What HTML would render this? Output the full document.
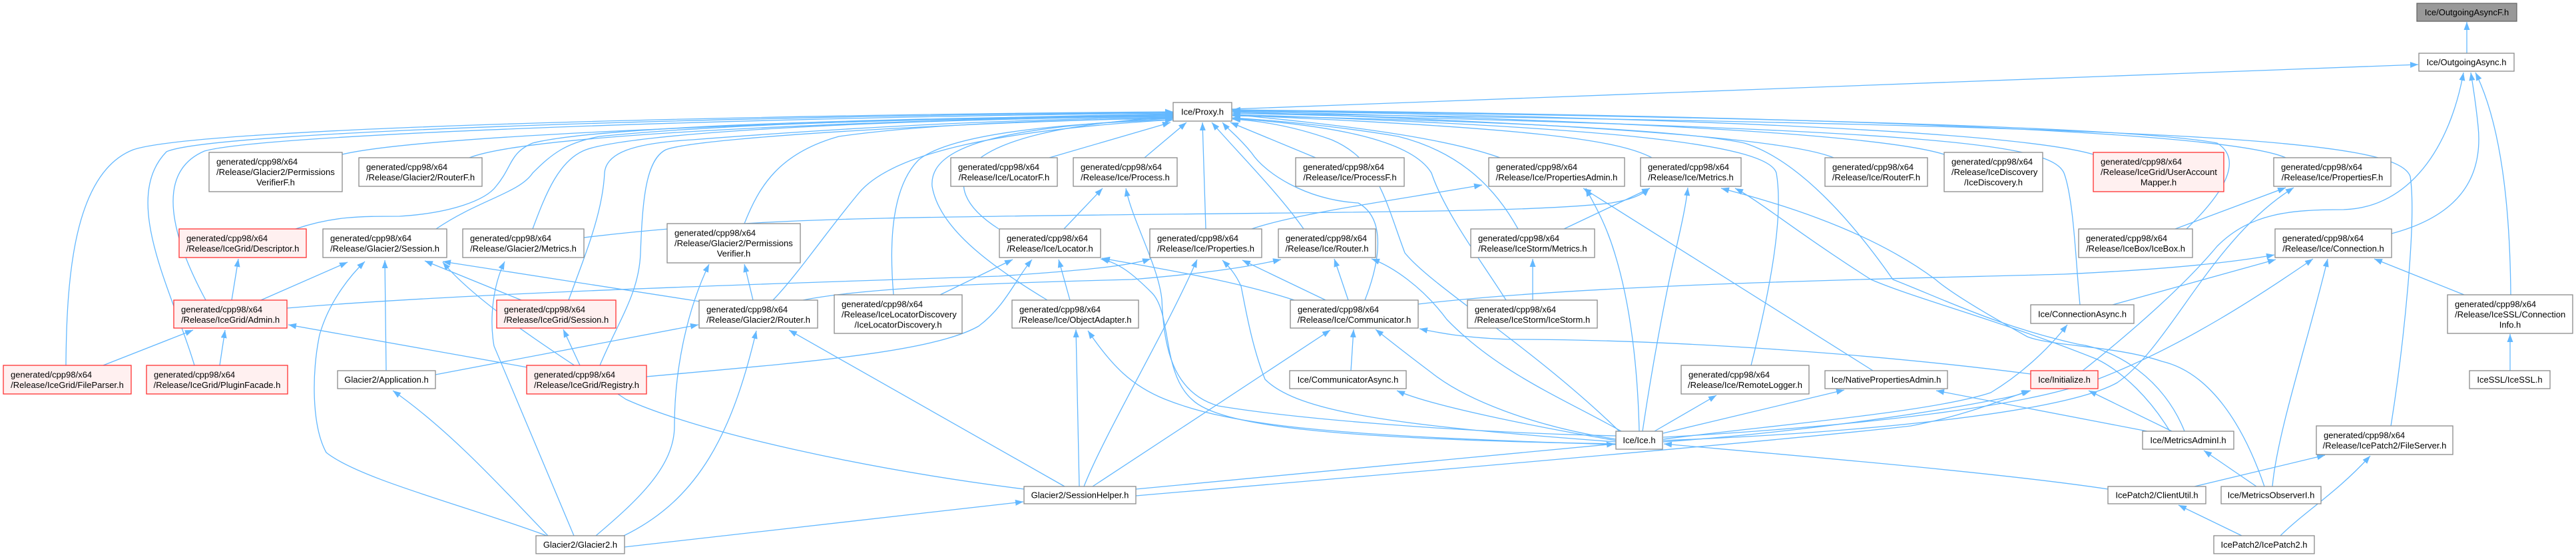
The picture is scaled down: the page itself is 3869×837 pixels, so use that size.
<!DOCTYPE html>
<html><head><meta charset="utf-8"><title>Ice/OutgoingAsyncF.h include graph</title>
<style>
html,body{margin:0;padding:0;background:#fff;}
svg{display:block;}
text{font-family:"Liberation Sans",Arial,Helvetica,sans-serif;font-size:13px;fill:#000;}
.e{fill:none;stroke:#63b8ff;stroke-width:1.3;marker-end:url(#a);}
.n rect{fill:#fff;stroke:#8a8a8a;stroke-width:1.3;}
.r rect{fill:#fff0f0;stroke:#ff3030;stroke-width:1.3;}
.g rect{fill:#999999;stroke:#666666;stroke-width:1.3;}
.c{text-anchor:middle;}
</style></head>
<body>
<svg width="3869" height="837" viewBox="0 0 3869 837" xmlns="http://www.w3.org/2000/svg">
<defs>
<marker id="a" viewBox="0 0 12 10" markerWidth="12" markerHeight="10" refX="12" refY="5" orient="auto" markerUnits="userSpaceOnUse"><path d="M0,0.5 L12,5 L0,9.5z" fill="#63b8ff"/></marker>
</defs>

<g>
<path class="e" d="M3705,80 L3705,33"/>
<path class="e" d="M1850,164 L3632,97"/>
<path class="e" d="M3592,351 C3690,325 3730,270 3722,190 C3718,150 3714,128 3711,109"/>
<path class="e" d="M3771,443 C3770,320 3758,190 3718,109"/>
<path class="e" d="M3128,557 C3200,500 3280,430 3330,370 C3380,320 3440,315 3520,315 C3620,312 3680,220 3700,109"/>
<path class="e" d="M3770,557 L3770,502"/>
<path class="e" d="M3701,443 L3566,389"/>
<path class="e" d="M3413,731 C3420,650 3470,500 3496,389"/>
<path class="e" d="M2498,657 C2800,640 3050,610 3150,570 C3280,520 3400,440 3474,389"/>
<path class="e" d="M2130,457 C2400,425 2900,418 3100,412 C3250,405 3350,395 3416,383"/>
<path class="e" d="M3173,458 L3418,390"/>
<path class="e" d="M2498,660 C2650,640 2900,620 2990,590 C3040,560 3080,520 3105,488"/>
<path class="e" d="M3267,344 L3433,282"/>
<path class="e" d="M2498,662 C2800,650 3100,620 3180,575 C3260,520 3320,360 3445,282"/>
<path class="e" d="M3591,640 C3610,520 3630,330 3620,265 C3600,210 3300,190 1851,170"/>
<path class="e" d="M3296,731 L3492,684"/>
<path class="e" d="M3367,805 L3272,759"/>
<path class="e" d="M3425,805 C3460,770 3510,740 3560,685"/>
<path class="e" d="M3166,735 C3000,710 2700,685 2499,667"/>
<path class="e" d="M3389,731 L3310,677"/>
<path class="e" d="M3401,731 C3370,640 3320,560 3247,543 C3180,520 3080,520 3045,506 C2980,470 2930,440 2907,420 C2800,340 2650,300 2585,283"/>
<path class="e" d="M3259,648 C3230,600 3190,560 3150,540 C3000,480 2880,450 2810,420 C2700,350 2640,300 2606,283"/>
<path class="e" d="M3225,648 L2908,587"/>
<path class="e" d="M3262,648 L3137,587"/>
<path class="e" d="M3281,648 C3250,570 3180,525 3120,517 C3000,490 2920,450 2843,420 C2780,330 2700,240 2620,215 C2500,190 2100,178 1851,174"/>
<path class="e" d="M2813,557 L2378,283"/>
<path class="e" d="M2498,651 L2770,586"/>
<path class="e" d="M2485,648 L2578,594"/>
<path class="e" d="M2630,549 C2655,450 2680,330 2668,260 C2655,215 2400,190 1851,172"/>
<path class="e" d="M2467,648 C2480,560 2500,450 2516,380 C2525,340 2532,310 2535,282"/>
<path class="e" d="M2462,648 C2460,560 2450,460 2425,380 C2410,330 2390,300 2382,283"/>
<path class="e" d="M2435,648 C2350,600 2250,560 2173,480 C2136,430 2090,400 2060,389"/>
<path class="e" d="M2302,451 L2302,389"/>
<path class="e" d="M2262,451 C2230,400 2170,320 2150,260 C2120,210 2000,188 1851,178"/>
<path class="e" d="M2349,344 L2478,283"/>
<path class="e" d="M2280,344 C2250,290 2200,230 2100,205 C2000,188 1900,180 1851,177"/>
<path class="e" d="M877,357 C1100,330 1300,328 1500,325 C2000,318 2300,320 2420,305 C2450,300 2468,292 2477,283"/>
<path class="e" d="M2481,237 C2430,210 2300,192 1851,173"/>
<path class="e" d="M2253,237 C2150,200 1950,182 1851,172"/>
<path class="e" d="M1880,344 C1950,320 2100,300 2226,278"/>
<path class="e" d="M1976,237 L1848,184"/>
<path class="e" d="M1958,344 C1920,290 1860,230 1820,184"/>
<path class="e" d="M1811,344 L1806,184"/>
<path class="e" d="M1719,237 L1782,184"/>
<path class="e" d="M1576,237 L1758,184"/>
<path class="e" d="M1500,344 C1400,280 1420,195 1762,176"/>
<path class="e" d="M1598,344 L1656,283"/>
<path class="e" d="M2427,655 C2200,650 1950,630 1830,610 C1760,590 1748,520 1745,450 C1740,400 1700,330 1691,283"/>
<path class="e" d="M2050,451 C2070,400 2085,330 2040,305 C1960,300 1900,260 1880,230 C1860,205 1845,195 1836,184"/>
<path class="e" d="M1944,451 C1850,420 1720,400 1655,388"/>
<path class="e" d="M1991,451 L1866,391"/>
<path class="e" d="M2025,451 L2004,389"/>
<path class="e" d="M2427,660 C2300,640 2200,600 2150,560 C2110,530 2085,510 2066,495"/>
<path class="e" d="M2427,662 C2300,640 2150,610 2098,587"/>
<path class="e" d="M2029,557 L2033,495"/>
<path class="e" d="M3050,562 C2800,530 2500,510 2270,510 C2200,508 2160,500 2132,494"/>
<path class="e" d="M2427,664 C2100,640 1950,620 1900,570 C1880,520 1870,460 1864,430 C1855,410 1845,400 1836,391"/>
<path class="e" d="M2427,667 C2000,660 1830,640 1790,600 C1745,560 1760,470 1730,440 C1700,410 1680,395 1653,389"/>
<path class="e" d="M2427,668 C2000,655 1850,640 1750,600 C1700,580 1670,550 1634,497"/>
<path class="e" d="M1621,731 L1616,495"/>
<path class="e" d="M1599,731 L1185,496"/>
<path class="e" d="M1628,731 C1660,650 1750,500 1798,390"/>
<path class="e" d="M1641,731 C1750,660 1900,560 1998,496"/>
<path class="e" d="M1706,735 L2425,667"/>
<path class="e" d="M1706,745 C2000,720 2700,660 2870,640 C2950,625 3010,600 3048,587"/>
<path class="e" d="M938,822 L1537,754"/>
<path class="e" d="M1538,735 C1300,705 1050,650 940,600 C850,540 720,460 665,394"/>
<path class="e" d="M1607,451 L1590,390"/>
<path class="e" d="M1573,451 C1480,395 1410,340 1400,280 C1395,220 1500,190 1762,178"/>
<path class="e" d="M1412,443 L1521,390"/>
<path class="e" d="M1342,443 C1335,360 1340,280 1380,240 C1430,200 1600,185 1762,180"/>
<path class="e" d="M971,566 C1200,545 1400,530 1470,490 C1510,460 1525,420 1550,390"/>
<path class="e" d="M792,552 L433,488"/>
<path class="e" d="M871,549 L846,495"/>
<path class="e" d="M901,549 C930,480 960,440 962,380 C965,300 970,240 1000,225 C1050,205 1500,182 1762,177"/>
<path class="e" d="M1051,453 L665,393"/>
<path class="e" d="M1131,451 L1118,397"/>
<path class="e" d="M1161,451 C1200,410 1240,350 1290,290 C1340,230 1500,195 1762,180"/>
<path class="e" d="M1206,451 C1300,432 1500,425 1700,420 C1820,410 1880,400 1924,390"/>
<path class="e" d="M654,563 L1049,488"/>
<path class="e" d="M580,557 L578,391"/>
<path class="e" d="M823,805 C760,740 680,650 590,587"/>
<path class="e" d="M937,805 C1050,750 1100,650 1136,497"/>
<path class="e" d="M895,805 C960,750 1013,700 1013,640 C1013,560 1030,470 1065,397"/>
<path class="e" d="M862,805 L742,520 C735,480 740,430 758,393"/>
<path class="e" d="M821,805 C700,760 540,720 490,680 C468,640 468,560 480,503 C495,450 530,410 548,393"/>
<path class="e" d="M392,451 L522,394"/>
<path class="e" d="M348,451 L358,389"/>
<path class="e" d="M309,451 C260,360 230,260 307,227 C400,200 1200,175 1762,170"/>
<path class="e" d="M431,463 C700,440 1200,425 1500,415 C1650,405 1700,398 1728,389"/>
<path class="e" d="M783,451 L638,392"/>
<path class="e" d="M854,451 C880,380 905,320 908,260 C910,230 950,215 1040,210 C1300,190 1500,180 1762,176"/>
<path class="e" d="M155,549 L290,496"/>
<path class="e" d="M99,549 C100,420 110,260 200,225 C300,190 1200,172 1762,168"/>
<path class="e" d="M330,549 L338,496"/>
<path class="e" d="M292,549 C260,440 180,300 250,228 C320,195 1200,173 1762,169"/>
<path class="e" d="M514,232 C650,200 1300,180 1762,171"/>
<path class="e" d="M705,237 C800,200 1300,182 1762,172"/>
<path class="e" d="M444,344 C500,325 540,325 600,325 C680,320 730,300 745,280 C770,250 765,230 800,215 C900,190 1300,178 1762,173"/>
<path class="e" d="M655,344 C720,300 780,290 800,260 C830,230 850,215 900,205 C1100,185 1400,178 1762,174"/>
<path class="e" d="M800,344 C820,290 840,240 880,225 C950,200 1300,180 1762,175"/>
<path class="e" d="M1118,336 C1140,280 1170,230 1260,205 C1400,185 1600,180 1762,178"/>
<path class="e" d="M2754,237 C2700,215 2500,190 1851,168"/>
<path class="e" d="M2920,232 C2850,210 2600,185 1851,167"/>
<path class="e" d="M3144,232 C3050,205 2700,180 1851,166"/>
<path class="e" d="M3433,237 C3350,200 2800,175 1851,165"/>
<path class="e" d="M3284,344 C3340,290 3370,240 3330,215 C3200,190 2600,175 1851,166"/>
<path class="e" d="M3124,458 C3118,400 3115,300 3100,260 C3080,215 2900,195 1851,170"/>
<path class="e" d="M2432,648 C2300,520 2150,430 2110,380 C2080,300 2070,240 2000,210 C1950,192 1900,182 1851,179"/>
<path class="e" d="M2498,664 C2700,650 2900,620 3000,600 C3030,595 3040,590 3050,587"/>
</g>

<!-- single-line nodes -->
<g class="g"><rect x="3630" y="5" width="150" height="27"/><text class="c" x="3705" y="23">Ice/OutgoingAsyncF.h</text></g>
<g class="n"><rect x="3633" y="80" width="143" height="27"/><text class="c" x="3704.5" y="98">Ice/OutgoingAsync.h</text></g>
<g class="n"><rect x="1762" y="154" width="88" height="28"/><text class="c" x="1806" y="172.5">Ice/Proxy.h</text></g>
<g class="n"><rect x="3050" y="458" width="155" height="28"/><text class="c" x="3127.5" y="476.5">Ice/ConnectionAsync.h</text></g>
<g class="n"><rect x="507" y="557" width="147" height="27"/><text class="c" x="580.5" y="575">Glacier2/Application.h</text></g>
<g class="n"><rect x="1937" y="557" width="175" height="27"/><text class="c" x="2024.5" y="575">Ice/CommunicatorAsync.h</text></g>
<g class="n"><rect x="2741" y="557" width="184" height="27"/><text class="c" x="2833" y="575">Ice/NativePropertiesAdmin.h</text></g>
<g class="r"><rect x="3050" y="557" width="101" height="27"/><text class="c" x="3100.5" y="575">Ice/Initialize.h</text></g>
<g class="n"><rect x="3709" y="557" width="121" height="27"/><text class="c" x="3769.5" y="575">IceSSL/IceSSL.h</text></g>
<g class="n"><rect x="2427" y="648" width="70" height="27"/><text class="c" x="2462" y="666">Ice/Ice.h</text></g>
<g class="n"><rect x="3218" y="648" width="137" height="27"/><text class="c" x="3286.5" y="666">Ice/MetricsAdminI.h</text></g>
<g class="n"><rect x="1538" y="731" width="168" height="26"/><text class="c" x="1622" y="748.5">Glacier2/SessionHelper.h</text></g>
<g class="n"><rect x="3166" y="731" width="147" height="26"/><text class="c" x="3239.5" y="748.5">IcePatch2/ClientUtil.h</text></g>
<g class="n"><rect x="3336" y="731" width="150" height="26"/><text class="c" x="3411" y="748.5">Ice/MetricsObserverI.h</text></g>
<g class="n"><rect x="805" y="805" width="133" height="27"/><text class="c" x="871.5" y="823">Glacier2/Glacier2.h</text></g>
<g class="n"><rect x="3325" y="805" width="151" height="27"/><text class="c" x="3400.5" y="823">IcePatch2/IcePatch2.h</text></g>

<!-- two-line nodes -->
<g class="n"><rect x="539" y="237" width="185" height="43"/><text x="550" y="255.5">generated/cpp98/x64</text><text class="c" x="631.5" y="271">/Release/Glacier2/RouterF.h</text></g>
<g class="n"><rect x="1428" y="237" width="160" height="43"/><text x="1439" y="255.5">generated/cpp98/x64</text><text class="c" x="1508" y="271">/Release/Ice/LocatorF.h</text></g>
<g class="n"><rect x="1612" y="237" width="156" height="43"/><text x="1623" y="255.5">generated/cpp98/x64</text><text class="c" x="1690" y="271">/Release/Ice/Process.h</text></g>
<g class="n"><rect x="1946" y="237" width="163" height="43"/><text x="1957" y="255.5">generated/cpp98/x64</text><text class="c" x="2027.5" y="271">/Release/Ice/ProcessF.h</text></g>
<g class="n"><rect x="2236" y="237" width="204" height="43"/><text x="2247" y="255.5">generated/cpp98/x64</text><text class="c" x="2338" y="271">/Release/Ice/PropertiesAdmin.h</text></g>
<g class="n"><rect x="2464" y="237" width="151" height="43"/><text x="2475" y="255.5">generated/cpp98/x64</text><text class="c" x="2539.5" y="271">/Release/Ice/Metrics.h</text></g>
<g class="n"><rect x="2741" y="237" width="154" height="43"/><text x="2752" y="255.5">generated/cpp98/x64</text><text class="c" x="2818" y="271">/Release/Ice/RouterF.h</text></g>
<g class="n"><rect x="3415" y="237" width="176" height="43"/><text x="3426" y="255.5">generated/cpp98/x64</text><text class="c" x="3503" y="271">/Release/Ice/PropertiesF.h</text></g>
<g class="r"><rect x="269" y="344" width="191" height="43"/><text x="280" y="362.5">generated/cpp98/x64</text><text class="c" x="364.5" y="378">/Release/IceGrid/Descriptor.h</text></g>
<g class="n"><rect x="485" y="344" width="186" height="43"/><text x="496" y="362.5">generated/cpp98/x64</text><text class="c" x="578" y="378">/Release/Glacier2/Session.h</text></g>
<g class="n"><rect x="695" y="344" width="182" height="43"/><text x="706" y="362.5">generated/cpp98/x64</text><text class="c" x="786" y="378">/Release/Glacier2/Metrics.h</text></g>
<g class="n"><rect x="1501" y="344" width="152" height="43"/><text x="1512" y="362.5">generated/cpp98/x64</text><text class="c" x="1577" y="378">/Release/Ice/Locator.h</text></g>
<g class="n"><rect x="1727" y="344" width="168" height="43"/><text x="1738" y="362.5">generated/cpp98/x64</text><text class="c" x="1811" y="378">/Release/Ice/Properties.h</text></g>
<g class="n"><rect x="1920" y="344" width="146" height="43"/><text x="1931" y="362.5">generated/cpp98/x64</text><text class="c" x="1993" y="378">/Release/Ice/Router.h</text></g>
<g class="n"><rect x="2209" y="344" width="186" height="43"/><text x="2220" y="362.5">generated/cpp98/x64</text><text class="c" x="2302" y="378">/Release/IceStorm/Metrics.h</text></g>
<g class="n"><rect x="3122" y="344" width="171" height="43"/><text x="3133" y="362.5">generated/cpp98/x64</text><text class="c" x="3207.5" y="378">/Release/IceBox/IceBox.h</text></g>
<g class="n"><rect x="3417" y="344" width="175" height="43"/><text x="3428" y="362.5">generated/cpp98/x64</text><text class="c" x="3504.5" y="378">/Release/Ice/Connection.h</text></g>
<g class="r"><rect x="261" y="451" width="170" height="42"/><text x="272" y="469.5">generated/cpp98/x64</text><text class="c" x="346" y="485">/Release/IceGrid/Admin.h</text></g>
<g class="r"><rect x="746" y="451" width="179" height="42"/><text x="757" y="469.5">generated/cpp98/x64</text><text class="c" x="835.5" y="485">/Release/IceGrid/Session.h</text></g>
<g class="n"><rect x="1050" y="451" width="178" height="42"/><text x="1061" y="469.5">generated/cpp98/x64</text><text class="c" x="1139" y="485">/Release/Glacier2/Router.h</text></g>
<g class="n"><rect x="1520" y="451" width="190" height="42"/><text x="1531" y="469.5">generated/cpp98/x64</text><text class="c" x="1615" y="485">/Release/Ice/ObjectAdapter.h</text></g>
<g class="n"><rect x="1938" y="451" width="192" height="42"/><text x="1949" y="469.5">generated/cpp98/x64</text><text class="c" x="2034" y="485">/Release/Ice/Communicator.h</text></g>
<g class="n"><rect x="2204" y="451" width="195" height="42"/><text x="2215" y="469.5">generated/cpp98/x64</text><text class="c" x="2301.5" y="485">/Release/IceStorm/IceStorm.h</text></g>
<g class="r"><rect x="5" y="549" width="192" height="43"/><text x="16" y="567.5">generated/cpp98/x64</text><text class="c" x="101" y="583">/Release/IceGrid/FileParser.h</text></g>
<g class="r"><rect x="220" y="549" width="212" height="43"/><text x="231" y="567.5">generated/cpp98/x64</text><text class="c" x="326" y="583">/Release/IceGrid/PluginFacade.h</text></g>
<g class="r"><rect x="791" y="549" width="180" height="43"/><text x="802" y="567.5">generated/cpp98/x64</text><text class="c" x="881" y="583">/Release/IceGrid/Registry.h</text></g>
<g class="n"><rect x="2525" y="549" width="192" height="43"/><text x="2536" y="567.5">generated/cpp98/x64</text><text class="c" x="2621" y="583">/Release/Ice/RemoteLogger.h</text></g>
<g class="n"><rect x="3479" y="640" width="205" height="43"/><text x="3490" y="658.5">generated/cpp98/x64</text><text class="c" x="3581.5" y="674">/Release/IcePatch2/FileServer.h</text></g>

<!-- three-line nodes -->
<g class="n"><rect x="314" y="229" width="200" height="59"/><text x="325" y="247.5">generated/cpp98/x64</text><text x="325" y="263">/Release/Glacier2/Permissions</text><text class="c" x="414" y="278.5">VerifierF.h</text></g>
<g class="n"><rect x="2920" y="229" width="148" height="59"/><text x="2931" y="247.5">generated/cpp98/x64</text><text x="2931" y="263">/Release/IceDiscovery</text><text class="c" x="2994" y="278.5">/IceDiscovery.h</text></g>
<g class="r"><rect x="3144" y="229" width="196" height="59"/><text x="3155" y="247.5">generated/cpp98/x64</text><text x="3155" y="263">/Release/IceGrid/UserAccount</text><text class="c" x="3242" y="278.5">Mapper.h</text></g>
<g class="n"><rect x="1002" y="336" width="200" height="59"/><text x="1013" y="354.5">generated/cpp98/x64</text><text x="1013" y="370">/Release/Glacier2/Permissions</text><text class="c" x="1102" y="385.5">Verifier.h</text></g>
<g class="n"><rect x="1253" y="443" width="192" height="58"/><text x="1264" y="461.5">generated/cpp98/x64</text><text x="1264" y="477">/Release/IceLocatorDiscovery</text><text class="c" x="1349" y="492.5">/IceLocatorDiscovery.h</text></g>
<g class="n"><rect x="3676" y="443" width="188" height="58"/><text x="3687" y="461.5">generated/cpp98/x64</text><text x="3687" y="477">/Release/IceSSL/Connection</text><text class="c" x="3770" y="492.5">Info.h</text></g>
</svg>
</body></html>
